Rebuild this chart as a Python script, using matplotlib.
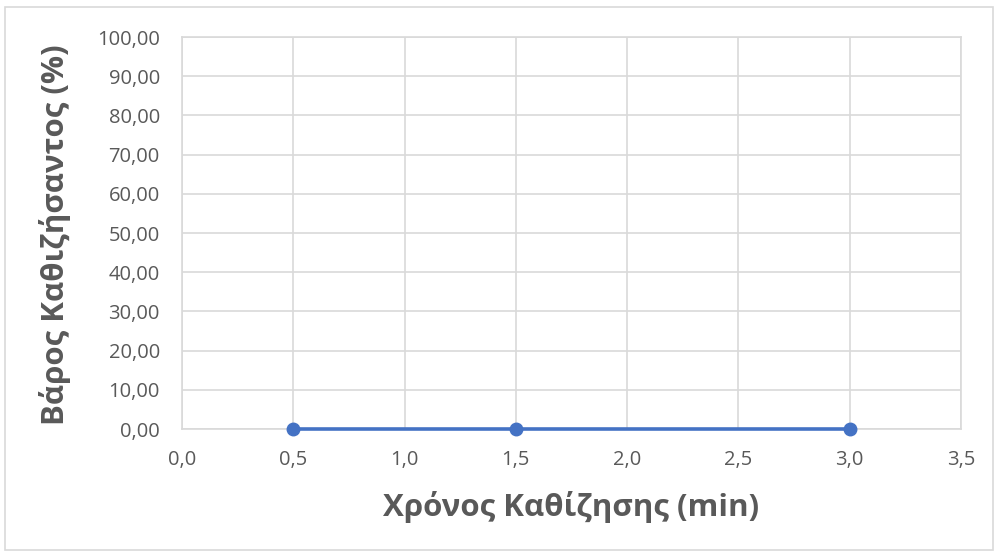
import matplotlib
matplotlib.use("Agg")
import matplotlib.pyplot as plt
from matplotlib.patches import Rectangle
from matplotlib.ticker import FuncFormatter, MultipleLocator

# Settling data
time_min = [0.5, 1.5, 3.0]
settled_pct = [0.0, 0.0, 0.0]

x_title = "Χρόνος Καθίζησης (min)"
y_title = "Βάρος Καθιζήσαντος (%)"

text_color = "#595959"
grid_color = "#d9d9d9"
line_color = "#4472C4"

plt.rcParams["font.family"] = ["Open Sans", "DejaVu Sans"]

fig = plt.figure(figsize=(9.98, 5.56), dpi=100)
fig.patches.append(Rectangle((5 / 998, 1 - 550 / 556), 988 / 998, 543 / 556,
                             transform=fig.transFigure, fill=False,
                             edgecolor="#d9d9d9", linewidth=1.2))

ax = fig.add_axes([182 / 998, 1 - 429 / 556, 779 / 998, 392 / 556])
ax.plot(time_min, settled_pct, color=line_color, linewidth=2.6,
        marker="o", markersize=9, zorder=3, clip_on=False)

ax.set_xlim(0, 3.5)
ax.set_ylim(0, 100)
ax.xaxis.set_major_locator(MultipleLocator(0.5))
ax.yaxis.set_major_locator(MultipleLocator(10))
ax.xaxis.set_major_formatter(FuncFormatter(lambda v, p: f"{v:.1f}".replace(".", ",")))
ax.yaxis.set_major_formatter(FuncFormatter(lambda v, p: f"{v:.2f}".replace(".", ",")))

ax.grid(True, color=grid_color, linewidth=1.2)
ax.set_axisbelow(True)
for s in ax.spines.values():
    s.set_color(grid_color)
    s.set_linewidth(1.2)
ax.tick_params(length=0, labelsize=14.5, colors=text_color)
ax.tick_params(axis="y", pad=16)
ax.tick_params(axis="x", pad=15)

ax.set_xlabel(x_title, fontsize=22.5, fontweight="bold", color=text_color)
ax.set_ylabel(y_title, fontsize=22.5, fontweight="bold", color=text_color)
ax.xaxis.set_label_coords(0.5, 1 - (507 - 37) / 392, transform=ax.transAxes)
ax.yaxis.set_label_coords((55 - 182) / 779, 0.5 + (231 - 233) / 392)
ax.xaxis.label.set_va("center")
ax.yaxis.label.set_va("center")

fig.savefig("out.png", dpi=100)
